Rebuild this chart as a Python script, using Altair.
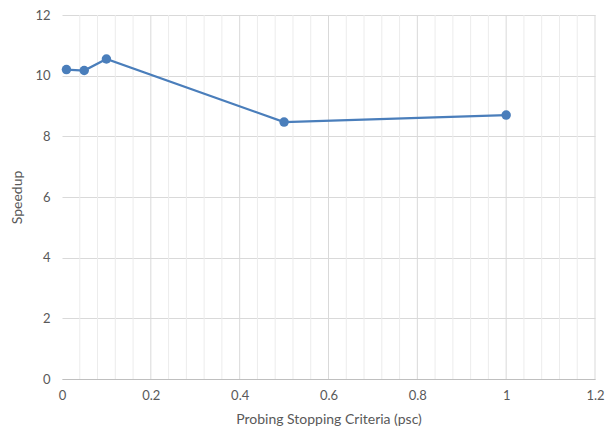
import altair as alt
import pandas as pd

psc = [0.01, 0.05, 0.1, 0.5, 1.0]
speedup = [10.2, 10.17, 10.55, 8.47, 8.7]
minor_x = [round(0.04 * i, 2) for i in range(1, 31) if (i % 5) != 0]
major_x = [0.2, 0.4, 0.6, 0.8, 1.0, 1.2]

df = pd.DataFrame({"psc": psc, "speedup": speedup})
minor_df = pd.DataFrame({"x": minor_x})
major_df = pd.DataFrame({"x": major_x})

FONT = "Lato"
xscale = alt.Scale(domain=[0, 1.2], nice=False)
yscale = alt.Scale(domain=[0, 12], nice=False)

minor = alt.Chart(minor_df).mark_rule(color="#ececec", strokeWidth=1).encode(
    x=alt.X("x:Q", scale=xscale)
)
major = alt.Chart(major_df).mark_rule(color="#d9d9d9", strokeWidth=1).encode(
    x=alt.X("x:Q", scale=xscale)
)

base = alt.Chart(df).encode(
    x=alt.X("psc:Q", scale=xscale,
            title="Probing Stopping Criteria (psc)",
            axis=alt.Axis(values=[0, 0.2, 0.4, 0.6, 0.8, 1.0, 1.2], grid=False,
                          ticks=False, domainColor="#bfbfbf", labelPadding=10,
                          titlePadding=10, format="~g",
                          labelFlush=False)),
    y=alt.Y("speedup:Q", scale=yscale, title="Speedup",
            axis=alt.Axis(values=[0, 2, 4, 6, 8, 10, 12], grid=True,
                          gridColor="#d9d9d9", ticks=False, domain=False,
                          labelPadding=12, titlePadding=10)),
)
line = base.mark_line(color="#4A7EBB", strokeWidth=2.25)
pts = base.mark_point(color="#4A7EBB", filled=True, opacity=1, size=90)

chart = alt.layer(minor, major, line, pts).properties(
    width=533, height=364,
    autosize=alt.AutoSizeParams(type="none"),
    padding={"left": 54, "top": 7, "right": 12, "bottom": 48},
).configure_view(stroke=None).configure_axis(
    labelFont=FONT, titleFont=FONT, labelColor="#595959", titleColor="#595959",
    labelFontSize=13, titleFontSize=14, titleFontWeight="normal"
)

chart.save("out.html", embed_options={"renderer": "svg", "actions": False})
